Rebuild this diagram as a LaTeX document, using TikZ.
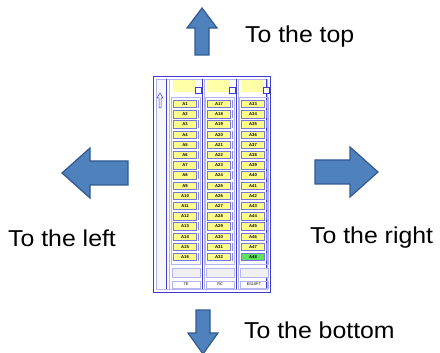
\documentclass[tikz,border=0pt]{standalone}
\usepackage{fontspec}
\setmainfont{Liberation Sans}
\newfontfamily\capfont[FakeStretch=1.08]{Liberation Sans}
\usetikzlibrary{positioning}

\definecolor{arrowblue}{HTML}{4F81BD}
\definecolor{arrowedge}{HTML}{2F5A8F}
\definecolor{panelblue}{HTML}{3C3CD2}
\definecolor{lavender}{HTML}{B4B4F0}
\definecolor{slotyellow}{HTML}{FFFF8C}
\definecolor{headyellow}{HTML}{FFFFA8}
\definecolor{slotgreen}{HTML}{5FE35F}

\begin{document}
\begin{tikzpicture}[
    x=1pt,y=-1pt,
    bigarrow/.style={
        fill=arrowblue,
        draw=arrowedge,
        line width=1.2pt,
        line join=miter
    },
    caption/.style={font=\capfont\fontsize{23}{23}\selectfont, anchor=west, inner sep=0pt},
    frameline/.style={draw=panelblue, line width=0.9pt},
    thinline/.style={draw=panelblue, line width=0.5pt},
    softline/.style={draw=lavender, line width=0.7pt},
    header/.style={fill=headyellow, minimum width=23pt, minimum height=12pt, inner sep=0pt},
    knob/.style={draw=panelblue, fill=white, line width=0.4pt, minimum size=6pt, inner sep=0pt},
    slot/.style={
        draw=panelblue!70,
        line width=0.5pt,
        minimum width=23pt,
        minimum height=7.4pt,
        inner sep=0pt,
        font=\fontsize{4.2}{4.5}\selectfont\bfseries
    },
    spare/.style={draw=lavender, fill=gray!12, line width=0.5pt, minimum width=28pt, minimum height=9pt, inner sep=0pt},
    tag/.style={draw=lavender, line width=0.5pt, minimum width=28pt, minimum height=7pt, inner sep=0pt, font=\fontsize{3.8}{4}\selectfont}
]

\useasboundingbox (0,0) rectangle (440,353);

% Direction arrows
\draw[bigarrow] (202,8) -- (217,28) -- (209,28) -- (209,55) -- (195,55) -- (195,28) -- (187,28) -- cycle;
\draw[bigarrow] (62,173) -- (90,148) -- (90,161) -- (128,161) -- (128,185) -- (90,185) -- (90,198) -- cycle;
\draw[bigarrow] (378,172) -- (350,147) -- (350,160) -- (315,160) -- (315,184) -- (350,184) -- (350,197) -- cycle;
\draw[bigarrow] (196,310) -- (210,310) -- (210,333) -- (218,333) -- (203,354) -- (188,333) -- (196,333) -- cycle;

\node[caption] (totop) at (245,37) {To the top};
\node[caption] (toleft) at (8,238) {To the left};
\node[caption] (toright) at (310,238) {To the right};
\node[caption] (tobottom) at (244,330) {To the bottom};

% Panel frame
\fill[gray!6] (156,79) rectangle (166,289);
\draw[frameline] (153,76) rectangle (270,292);
\draw[softline] (156,79) rectangle (267,289);
\draw[thinline] (166,79) -- (166,289);
\draw[softline] (169,79) -- (169,289);
\draw[thinline] (202.5,79) -- (202.5,289);
\draw[softline] (204.5,79) -- (204.5,289);
\draw[thinline] (236.5,79) -- (236.5,289);
\draw[softline] (238.5,79) -- (238.5,289);
\draw[thinline] (266,79) -- (266,289);

% Scroll mark
\draw[thinline] (160,93) -- (163,98) -- (161,98) -- (161,108) -- (159,108) -- (159,98) -- (157,98) -- cycle;

% Columns
\foreach \col/\cx/\name in {0/170/TE,1/204/RC,2/238/ES10PT} {
    \node[header] (head\col) at (\cx+14.5,86) {};
    \node[knob] (knob\col) at (\cx+28.5,90) {};
    \draw[softline] (\cx+1.5,97) rectangle (\cx+30.5,264);
    \foreach \row in {1,...,16} {
        \pgfmathtruncatemacro\num{\col*16+\row}
        \ifnum\num=48 \def\slotfill{slotgreen}\else\def\slotfill{slotyellow}\fi
        \node[slot, fill=\slotfill] (a\num) at (\cx+15,{104+10.2*(\row-1)}) {A\num};
        \draw[draw=panelblue!60, line width=0.6pt] ([xshift=1.5pt]a\num.north east) -- ([xshift=1.5pt]a\num.south east);
    }
    \node[spare] (spare\col) at (\cx+16,272.5) {};
    \node[tag] (tag\col) at (\cx+16,284.5) {\name};
}

\end{tikzpicture}
\end{document}
